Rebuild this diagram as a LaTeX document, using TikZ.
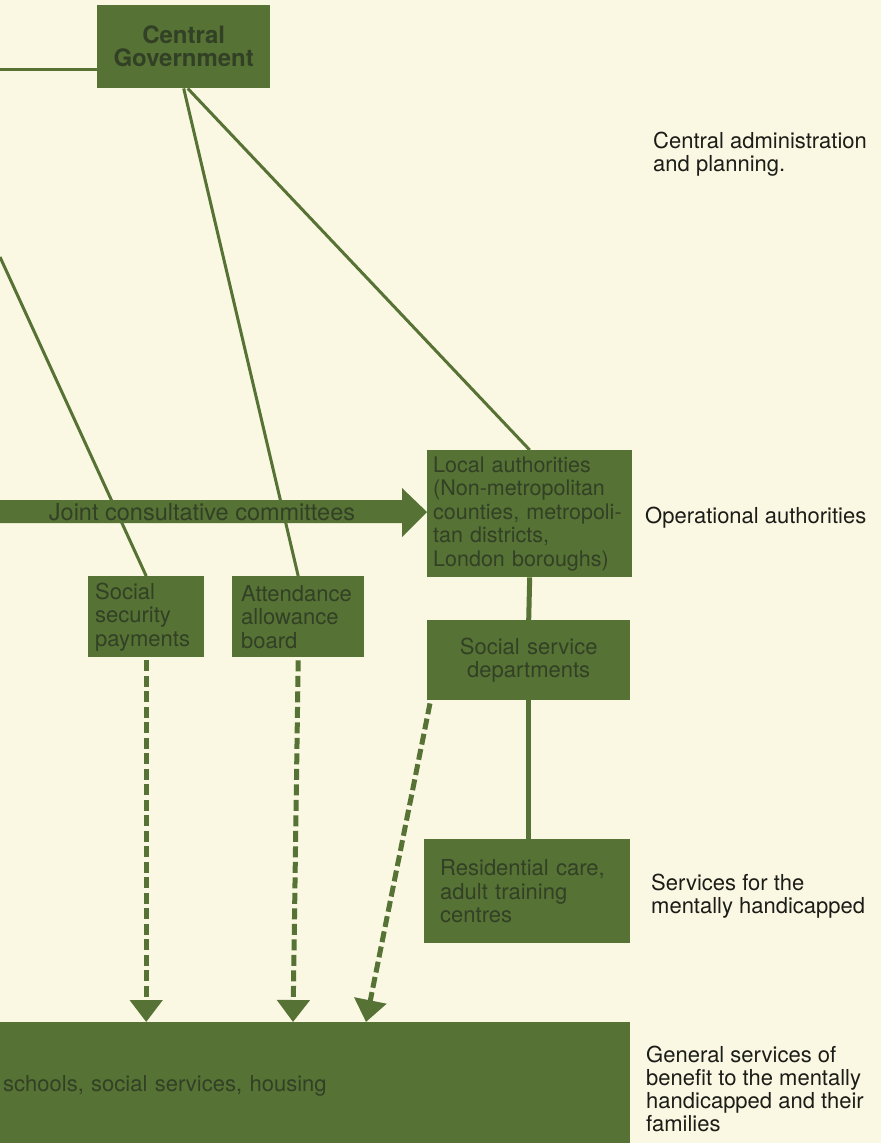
\documentclass[tikz,border=0pt]{standalone}
\usepackage{fontspec}
\setmainfont{TeX Gyre Heros}
\usetikzlibrary{calc,arrows.meta}
\definecolor{paper}{RGB}{250,248,226}
\definecolor{boxgreen}{RGB}{86,114,52}
\definecolor{boxink}{RGB}{50,64,38}
\definecolor{labelink}{RGB}{28,28,24}
\tikzset{
  box/.style={fill=boxgreen, text=boxink, anchor=north west, inner ysep=0pt,
    align=left, font=\fontsize{22}{23.5}\selectfont},
  link/.style={draw=boxgreen, line width=3pt},
  stem/.style={draw=boxgreen, line width=5pt},
  feed/.style={draw=boxgreen, line width=5pt, dash pattern=on 11pt off 4.5pt,
    -{Triangle[width=32pt,length=22pt]}},
  sidelabel/.style={anchor=west, text=labelink, align=left, inner sep=0pt,
    font=\fontsize{22}{23}\selectfont},
}

\begin{document}
\begin{tikzpicture}[x=1pt, y=-1pt]
			%%%%% PAGE %%%%%
			\useasboundingbox (0,0) rectangle (881,1143);
			\fill[paper] (0,0) rectangle (881,1143);
			
			%%%%% BOXES %%%%%
			\node[box, align=center, minimum width=173pt, minimum height=83pt,
			  font=\bfseries\fontsize{24}{23}\selectfont] (gov) at (97,5) {Central\\Government};
			
			\node[box, inner xsep=6pt, text width=193pt, minimum height=127pt,
			  font=\fontsize{21.5}{23.5}\selectfont] (loc) at (427,450)
			  {Local authorities\\(Non-metropolitan\\counties, metropoli-\\tan districts,\\London boroughs)};
			\node[box, align=center, inner xsep=8pt, text width=187pt, minimum height=80pt] (ssd) at (427,620)
			  {Social service\\departments};
			\node[box, inner xsep=16pt, text width=174pt, minimum height=104pt] (res) at (424,839)
			  {Residential care,\\adult training\\centres};
			
			\node[box, inner xsep=7pt, text width=102pt, minimum height=81pt] (ssp) at (88,576)
			  {Social\\security\\payments};
			\node[box, inner xsep=9pt, text width=114pt, minimum height=81pt] (aab) at (232,576)
			  {Attendance\\allowance\\board};
			
			\node[box, inner xsep=3pt, text width=624pt, minimum height=128pt] (gen) at (0,1022)
			  {schools, social services, housing};
			
			%%%%% SIDE LABELS %%%%%
			\node[sidelabel] (cadm) at (653,154) {Central administration\\and planning.};
			\node[sidelabel] (opa) at (645,518) {Operational authorities};
			\node[sidelabel] (smh) at (651,896) {Services for the\\mentally handicapped};
			\node[sidelabel] (gsb) at (646,1089) {General services of\\benefit to the mentally\\handicapped and their\\families};
			
			%%%%% LINKS %%%%%
			\coordinate (govL) at (0,69);
			\coordinate (offL) at (0,257);
			\draw[link] (govL) -- (gov.west |- govL);
			\draw[link] ($(gov.south)+(4,0)$) -- (loc.north);
			\draw[link] (gov.south) -- (aab.north);
			\draw[link] (offL) -- (ssp.north);
			
			\draw[stem] (loc.south) -- (ssd.north);
			\draw[stem] (ssd.south) -- (ssd.south |- res.north);
			
			\draw[feed] ($(ssp.south)+(0,3)$) -- (ssp.south |- gen.north);
			\draw[feed] ($(aab.south)+(0,3)$) -- ($(gen.north west)+(293,0)$);
			\draw[feed] ($(ssd.south west)+(3,3)$) -- ($(gen.north west)+(366,0)$);
			
			%%%%% JOINT ARROW %%%%%
			\fill[boxgreen] (0,500) -- (402,500) -- (402,488) -- (loc.west |- 0,512)
			  -- (402,537) -- (402,523) -- (0,523) -- cycle;
			\node[text=boxink, inner sep=0pt, font=\fontsize{23.5}{24}\selectfont] (jcc) at (202,512)
			  {Joint consultative committees};
			
		\end{tikzpicture}
\end{document}
